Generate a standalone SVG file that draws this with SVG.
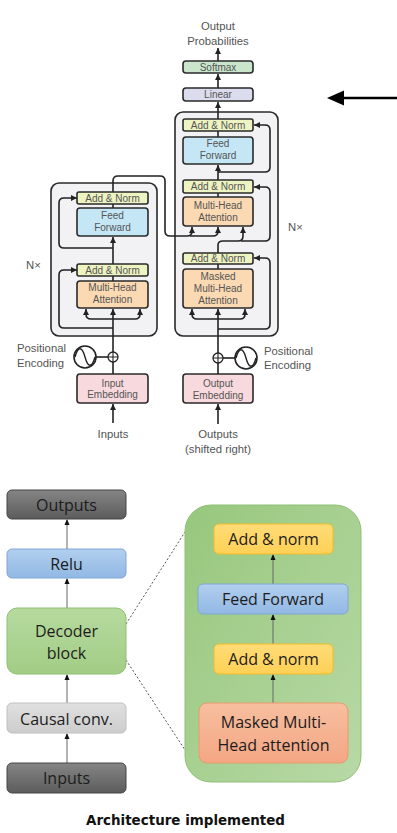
<svg xmlns="http://www.w3.org/2000/svg" width="397" height="833" viewBox="0 0 397 833">
<defs>
<style>
.t{font-family:"Liberation Sans",Arial,sans-serif;font-size:10px;fill:#555;text-anchor:middle}
.lb{font-family:"Liberation Sans",Arial,sans-serif;font-size:11.3px;fill:#555}
.bx{stroke:#2a2a2a;stroke-width:1.6}
.ln{fill:none;stroke:#222;stroke-width:1.6}
.an{fill:#eef3c2}.ff{fill:#c5e6f5}.mh{fill:#fbd9b3}.em{fill:#f8d9dd}
.ct{fill:#f2f2f4;stroke:#2a2a2a;stroke-width:1.6}
.bt{font-family:"Open Sans","Noto Sans",sans-serif;font-size:16px;fill:#1c1c1c;text-anchor:middle}
.bl{fill:none;stroke:#666;stroke-width:1}
.dl{fill:none;stroke:#555;stroke-width:1;stroke-dasharray:2,2}
</style>
<marker id="a" markerUnits="userSpaceOnUse" markerWidth="6" markerHeight="6" refX="6" refY="3" orient="auto"><path d="M0,0L6,3L0,6z" fill="#222"/></marker>
<marker id="b" markerUnits="userSpaceOnUse" markerWidth="6" markerHeight="6" refX="5" refY="3" orient="auto"><path d="M0,0.5L6,3L0,5.5z" fill="#111"/></marker>
<linearGradient id="gDark" x1="0" y1="0" x2="0" y2="1"><stop offset="0" stop-color="#858585"/><stop offset="1" stop-color="#5c5c5c"/></linearGradient>
<linearGradient id="gBlue" x1="0" y1="0" x2="0" y2="1"><stop offset="0" stop-color="#b2cfee"/><stop offset="1" stop-color="#91b8e4"/></linearGradient>
<linearGradient id="gGreen" x1="0" y1="0" x2="0" y2="1"><stop offset="0" stop-color="#b6da9e"/><stop offset="1" stop-color="#a2cd86"/></linearGradient>
<linearGradient id="gGray" x1="0" y1="0" x2="0" y2="1"><stop offset="0" stop-color="#e0e0e0"/><stop offset="1" stop-color="#cdcdcd"/></linearGradient>
<linearGradient id="gPanel" x1="0" y1="0" x2="1" y2="1"><stop offset="0" stop-color="#97c77d"/><stop offset="1" stop-color="#b8d9a6"/></linearGradient>
<linearGradient id="gYel" x1="0" y1="0" x2="0" y2="1"><stop offset="0" stop-color="#ffdc78"/><stop offset="1" stop-color="#ffd055"/></linearGradient>
<linearGradient id="gSal" x1="0" y1="0" x2="0" y2="1"><stop offset="0" stop-color="#f7bf9f"/><stop offset="1" stop-color="#f4a684"/></linearGradient>
</defs>
<rect width="397" height="833" fill="#fff"/>

<!-- Transformer: containers -->
<g id="encoder-stack"><rect class="ct" x="51" y="183" width="106" height="153" rx="8"/><text class="lb" x="26" y="269">N×</text></g>
<g id="decoder-stack"><rect class="ct" x="175" y="112" width="103" height="224" rx="8"/><text class="lb" x="288" y="231">N×</text></g>

<g id="connectors">
<!-- encoder -->
<path class="ln" d="M113,423V404" marker-end="url(#a)"/>
<path class="ln" d="M113,374V362"/>
<path class="ln" d="M113,352V309" marker-end="url(#a)"/>
<path class="ln" d="M113,319H91Q86,319 86,314V309" marker-end="url(#a)"/>
<path class="ln" d="M113,319H135Q140,319 140,314V309" marker-end="url(#a)"/>
<path class="ln" d="M113,328H64Q59,328 59,323V275Q59,270 64,270H77" marker-end="url(#a)"/>
<path class="ln" d="M113,281V276"/>
<path class="ln" d="M113,264V237" marker-end="url(#a)"/>
<path class="ln" d="M113,248H64Q59,248 59,243V203Q59,198 64,198H77" marker-end="url(#a)"/>
<path class="ln" d="M113,208V204"/>
<path class="ln" d="M113,192V181Q113,176 118,176H160Q165,176 165,181V231Q165,236 170,236H187Q192,236 192,231V227" marker-end="url(#a)"/>
<path class="ln" d="M190,236H213Q218,236 218,231V227" marker-end="url(#a)"/>
<!-- decoder -->
<path class="ln" d="M218,424V404" marker-end="url(#a)"/>
<path class="ln" d="M218,374V363"/>
<path class="ln" d="M218,353V309" marker-end="url(#a)"/>
<path class="ln" d="M218,319H197Q192,319 192,314V309" marker-end="url(#a)"/>
<path class="ln" d="M218,319H240Q245,319 245,314V309" marker-end="url(#a)"/>
<path class="ln" d="M218,329H265Q270,329 270,324V263Q270,258 265,258H254" marker-end="url(#a)"/>
<path class="ln" d="M218,269V264"/>
<path class="ln" d="M218,253V245Q218,241 223,241H238Q243,241 243,236V227" marker-end="url(#a)"/>
<path class="ln" d="M241,241H265Q270,241 270,236V192Q270,187 265,187H254" marker-end="url(#a)"/>
<path class="ln" d="M218,197V193"/>
<path class="ln" d="M218,180V165" marker-end="url(#a)"/>
<path class="ln" d="M218,172H265Q270,172 270,167V130Q270,125 265,125H254" marker-end="url(#a)"/>
<path class="ln" d="M218,137V131"/>
<path class="ln" d="M218,119V102" marker-end="url(#a)"/>
<path class="ln" d="M218,88V74" marker-end="url(#a)"/>
<path class="ln" d="M218,61V48" marker-end="url(#a)"/>
<!-- positional encoding links -->
<path class="ln" d="M96,357H108"/>
<path class="ln" d="M223,358H235"/>
<!-- big arrow -->
<path d="M397,98H340" stroke="#000" stroke-width="2.5" fill="none"/>
<path d="M327,98L344,90.5V105.5z" fill="#000"/>
<!-- bottom diagram -->
<path class="bl" d="M67,549V520" marker-end="url(#b)"/>
<path class="bl" d="M67,608V579" marker-end="url(#b)"/>
<path class="bl" d="M67,703V675" marker-end="url(#b)"/>
<path class="bl" d="M67,763V734" marker-end="url(#b)"/>
<path class="dl" d="M126,624L185,532"/>
<path class="dl" d="M126,660L185,750"/>
</g>

<!-- Transformer: nodes -->
<g id="output-probabilities"><text class="lb" x="218" y="30" text-anchor="middle">Output</text><text class="lb" x="218" y="45" text-anchor="middle">Probabilities</text></g>
<g id="softmax"><rect class="bx" x="183" y="61" width="70" height="12" rx="3" fill="#c9e6cc"/><text class="t" x="218" y="70.5">Softmax</text></g>
<g id="linear"><rect class="bx" x="183" y="88" width="70" height="13" rx="3" fill="#dcdcef"/><text class="t" x="218" y="98">Linear</text></g>

<g id="dec-addnorm3"><rect class="bx an" x="183" y="119" width="70" height="12" rx="2"/><text class="t" x="218" y="128.5">Add &amp; Norm</text></g>
<g id="dec-ff"><rect class="bx ff" x="183" y="137" width="70" height="27" rx="3"/><text class="t" x="218" y="147">Feed</text><text class="t" x="218" y="159">Forward</text></g>
<g id="dec-addnorm2"><rect class="bx an" x="183" y="180" width="70" height="13" rx="2"/><text class="t" x="218" y="190">Add &amp; Norm</text></g>
<g id="dec-mha"><rect class="bx mh" x="183" y="197" width="70" height="29" rx="3"/><text class="t" x="218" y="209">Multi-Head</text><text class="t" x="218" y="221">Attention</text></g>
<g id="dec-addnorm1"><rect class="bx an" x="183" y="253" width="70" height="11" rx="2"/><text class="t" x="218" y="262">Add &amp; Norm</text></g>
<g id="dec-masked-mha"><rect class="bx mh" x="183" y="269" width="70" height="39" rx="3"/><text class="t" x="218" y="279.5">Masked</text><text class="t" x="218" y="291.5">Multi-Head</text><text class="t" x="218" y="303.5">Attention</text></g>

<g id="enc-addnorm2"><rect class="bx an" x="77" y="192" width="71" height="12" rx="2"/><text class="t" x="112.5" y="201.5">Add &amp; Norm</text></g>
<g id="enc-ff"><rect class="bx ff" x="77" y="208" width="71" height="28" rx="3"/><text class="t" x="112.5" y="218.5">Feed</text><text class="t" x="112.5" y="230.5">Forward</text></g>
<g id="enc-addnorm1"><rect class="bx an" x="77" y="264" width="71" height="12" rx="2"/><text class="t" x="112.5" y="273.5">Add &amp; Norm</text></g>
<g id="enc-mha"><rect class="bx mh" x="77" y="281" width="71" height="27" rx="3"/><text class="t" x="112.5" y="291">Multi-Head</text><text class="t" x="112.5" y="303">Attention</text></g>

<g id="enc-posenc">
<circle cx="85" cy="357" r="11" fill="#fff" stroke="#222" stroke-width="1.6"/>
<path d="M75,357C78,346 82,346 85,357C88,368 92,368 95,357" fill="none" stroke="#222" stroke-width="1.4"/>
<circle cx="113" cy="357" r="5" fill="#fff" stroke="#222" stroke-width="1.3"/>
<path d="M108,357H118M113,352V362" stroke="#222" stroke-width="1.1"/>
<text class="lb" x="17" y="352">Positional</text><text class="lb" x="17" y="367">Encoding</text>
</g>
<g id="dec-posenc">
<circle cx="246" cy="358" r="11" fill="#fff" stroke="#222" stroke-width="1.6"/>
<path d="M236,358C239,347 243,347 246,358C249,369 253,369 256,358" fill="none" stroke="#222" stroke-width="1.4"/>
<circle cx="218" cy="358" r="5" fill="#fff" stroke="#222" stroke-width="1.3"/>
<path d="M213,358H223M218,353V363" stroke="#222" stroke-width="1.1"/>
<text class="lb" x="264" y="355">Positional</text><text class="lb" x="264" y="369">Encoding</text>
</g>
<g id="input-embedding"><rect class="bx em" x="77" y="374" width="71" height="29" rx="3"/><text class="t" x="112.5" y="386.5">Input</text><text class="t" x="112.5" y="398">Embedding</text></g>
<g id="output-embedding"><rect class="bx em" x="183" y="374" width="70" height="29" rx="3"/><text class="t" x="218" y="386.5">Output</text><text class="t" x="218" y="398.5">Embedding</text></g>
<g id="inputs-label"><text class="lb" x="113" y="438" text-anchor="middle">Inputs</text></g>
<g id="outputs-label"><text class="lb" x="218" y="438" text-anchor="middle">Outputs</text><text class="lb" x="218" y="453" text-anchor="middle">(shifted right)</text></g>

<!-- Bottom diagram nodes -->
<g id="b-outputs"><rect x="7" y="490" width="119" height="29" rx="5" fill="url(#gDark)" stroke="#444" stroke-width="1"/><text class="bt" x="66.5" y="510.5">Outputs</text></g>
<g id="b-relu"><rect x="7" y="549" width="119" height="29" rx="5" fill="url(#gBlue)" stroke="#7ea7d6" stroke-width="1"/><text class="bt" x="66.5" y="569.5">Relu</text></g>
<g id="b-decoder"><rect x="7" y="608" width="119" height="66" rx="10" fill="url(#gGreen)" stroke="#8dc070" stroke-width="1"/><text class="bt" x="66.5" y="637">Decoder</text><text class="bt" x="66.5" y="659">block</text></g>
<g id="b-causal"><rect x="7" y="703" width="119" height="30" rx="5" fill="url(#gGray)" stroke="#c0c0c0" stroke-width="1"/><text class="bt" x="66.5" y="724.5">Causal conv.</text></g>
<g id="b-inputs"><rect x="7" y="763" width="119" height="30" rx="5" fill="url(#gDark)" stroke="#444" stroke-width="1"/><text class="bt" x="66.5" y="784">Inputs</text></g>

<g id="b-panel">
<rect x="185" y="505" width="176" height="277" rx="26" fill="url(#gPanel)" stroke="#8fc076" stroke-width="1"/>
<path class="bl" d="M273,584V555" marker-end="url(#b)"/>
<path class="bl" d="M273,644V615" marker-end="url(#b)"/>
<path class="bl" d="M273,703V675" marker-end="url(#b)"/>
</g>
<g id="p-addnorm2"><rect x="214" y="524" width="119" height="30" rx="5" fill="url(#gYel)" stroke="#f0bc2a" stroke-width="1"/><text class="bt" x="273.5" y="545">Add &amp; norm</text></g>
<g id="p-ff"><rect x="198" y="584" width="150" height="30" rx="5" fill="url(#gBlue)" stroke="#7ea7d6" stroke-width="1"/><text class="bt" x="273" y="605">Feed Forward</text></g>
<g id="p-addnorm1"><rect x="214" y="644" width="119" height="30" rx="5" fill="url(#gYel)" stroke="#f0bc2a" stroke-width="1"/><text class="bt" x="273.5" y="665">Add &amp; norm</text></g>
<g id="p-mha"><rect x="199" y="703" width="149" height="60" rx="8" fill="url(#gSal)" stroke="#ea9a6c" stroke-width="1"/><text class="bt" x="273.5" y="728">Masked Multi-</text><text class="bt" x="273.5" y="751">Head attention</text></g>

<g id="caption"><text x="185.5" y="825" text-anchor="middle" font-family="'DejaVu Sans',Verdana,sans-serif" font-weight="bold" font-size="13.4" fill="#111" textLength="199" lengthAdjust="spacingAndGlyphs">Architecture implemented</text></g>
</svg>
